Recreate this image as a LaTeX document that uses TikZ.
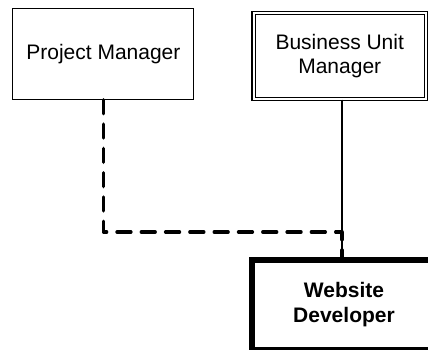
\documentclass[tikz,border=0pt]{standalone}
\usepackage{fontspec}
\setmainfont{Liberation Sans}
\begin{document}
\begin{tikzpicture}[x=1pt,y=-1pt,
  box/.style={draw=black,rectangle,inner sep=0pt,align=center,font=\fontsize{21}{24}\selectfont},
  plainbox/.style={box,line width=1.1pt},
  dblbox/.style={box,line width=1.1pt,double,double distance=2pt},
  heavybox/.style={box,line width=6pt,font=\fontsize{21}{25}\selectfont\bfseries},
  solidlink/.style={draw=black,line width=1.1pt},
  dashlink/.style={draw=black,line width=3.3pt,line cap=round,line join=round,dash pattern=on 14pt off 10.3pt}]
\useasboundingbox (0,0) rectangle (428,349);
\clip (0,0) rectangle (428,349);
\fill[white] (0,0) rectangle (428,349);
\node[plainbox,minimum width=181pt,minimum height=91pt] (pm) at (103.4,53.7) {Project Manager};
\node[dblbox,minimum width=172.5pt,minimum height=86pt] (bum) at (339.75,56) {Business Unit\\Manager};
\node[heavybox,minimum width=184pt,minimum height=90pt] (wd) at (344,305) {Website\\Developer};
\coordinate (j) at (342,232);
\draw[solidlink] (bum.south -| j) -- (j |- wd.north);
\draw[dashlink] (pm.south) -- (pm.south |- j) -- (j) -- (j |- wd.north);
\end{tikzpicture}
\end{document}
